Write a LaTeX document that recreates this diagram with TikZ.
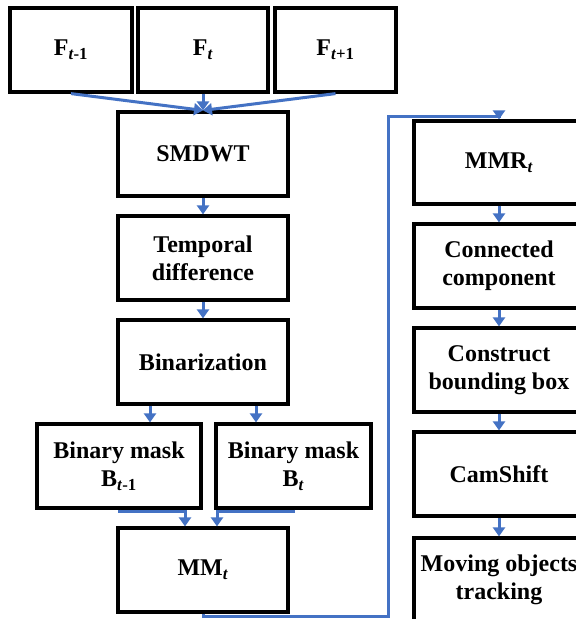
\documentclass[tikz,border=0pt]{standalone}
\usepackage{fontspec}
\setmainfont{Liberation Serif}
\usetikzlibrary{arrows.meta}
\definecolor{myblue}{RGB}{68,114,196}
\tikzset{
  box/.style={draw=black, line width=3.2pt, minimum height=84pt, align=center,
    font=\fontsize{24}{28}\selectfont\bfseries, inner sep=0pt, fill=white},
  conn/.style={draw=myblue, line width=3pt, line join=miter,
    -{Triangle[width=12pt,length=9pt]}},
}
\begin{document}
\begin{tikzpicture}[x=1pt,y=-1pt]
\fill[white] (0,0) rectangle (576,619);
\useasboundingbox (0,0) rectangle (576,619);
\clip (0,0) rectangle (576,619);
% left column
\node[box, minimum width=122pt] (f1) at (71,50) {F\textsubscript{\textit{t}-1}};
\node[box, minimum width=130pt] (f2) at (203,50) {F\textsubscript{\textit{t}}};
\node[box, minimum width=121pt] (f3) at (335.5,50) {F\textsubscript{\textit{t}+1}};
\node[box, minimum width=170pt] (smdwt) at (203,154) {SMDWT};
\node[box, minimum width=170pt] (temp) at (203,258) {Temporal\\difference};
\node[box, minimum width=170pt] (bin) at (203,362) {Binarization};
\node[box, minimum width=164pt] (b1) at (119,466) {Binary mask\\B\textsubscript{\textit{t}-1}};
\node[box, minimum width=155pt] (b2) at (293.5,466) {Binary mask\\B\textsubscript{\textit{t}}};
\node[box, minimum width=170pt] (mm) at (203,570) {MM\textsubscript{\textit{t}}};
% right column
\node[box, minimum width=170pt, minimum height=83pt] (mmr) at (499,162.5) {MMR\textsubscript{\textit{t}}};
\node[box, minimum width=170pt] (cc) at (499,266) {Connected\\component};
\node[box, minimum width=170pt] (cb) at (499,370) {Construct\\bounding box};
\node[box, minimum width=170pt] (cs) at (499,474) {CamShift};
\node[box, minimum width=170pt] (mo) at (499,580) {Moving objects\\tracking};
% connectors
\draw[conn] (f1.south) -- (smdwt.north);
\draw[conn] (f3.south) -- (smdwt.north);
\draw[conn] (f2.south) -- (smdwt.north);
\draw[conn] (smdwt.south) -- (temp.north);
\draw[conn] (temp.south) -- (bin.north);
\draw[conn] ([xshift=-53pt]bin.south) -- ([xshift=-53pt]bin.south |- b1.north);
\draw[conn] ([xshift=53pt]bin.south) -- ([xshift=53pt]bin.south |- b2.north);
\coordinate (j1) at (0,511);
\draw[conn] (b1.south) -- (b1.south |- j1) -- ([xshift=-18pt]mm.north |- j1) -- ([xshift=-18pt]mm.north);
\draw[conn] (b2.south) -- (b2.south |- j1) -- ([xshift=14pt]mm.north |- j1) -- ([xshift=14pt]mm.north);
\coordinate (l1) at (388,616);
\coordinate (l2) at (388,116);
\draw[conn] (mm.south) -- (mm.south |- l1) -- (l1) -- (l2) -- (l2 -| mmr.north) -- (mmr.north);
\draw[conn] (mmr.south) -- (cc.north);
\draw[conn] (cc.south) -- (cb.north);
\draw[conn] (cb.south) -- (cs.north);
\draw[conn] (cs.south) -- (mo.north);
\end{tikzpicture}
\end{document}
